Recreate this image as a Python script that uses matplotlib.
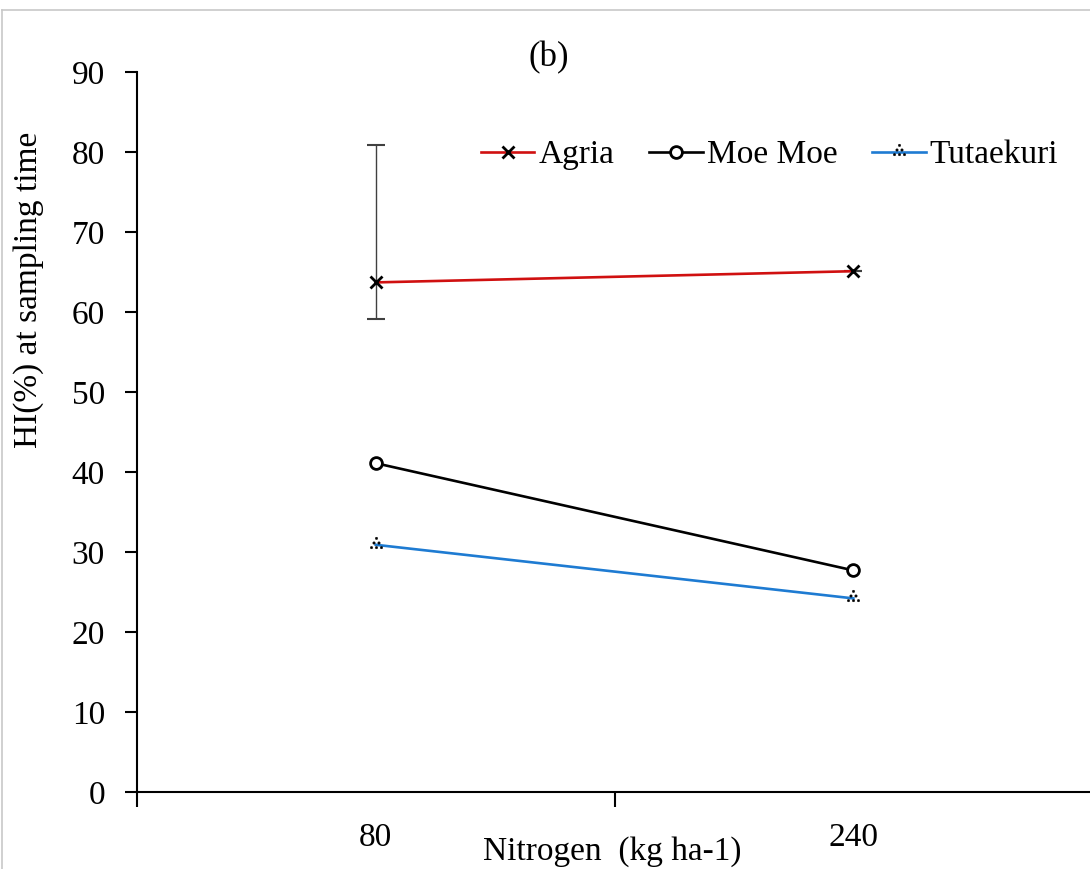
import matplotlib
matplotlib.use("Agg")
import matplotlib.pyplot as plt
from matplotlib.path import Path
from matplotlib.lines import Line2D
import numpy as np

plt.rcParams['font.family'] = ['Liberation Serif', 'DejaVu Serif']

categories = ["80", "240"]
series_names = ["Agria", "Moe Moe", "Tutaekuri"]
agria = [63.7, 65.1]
moe_moe = [41.1, 27.7]
tutaekuri = [30.9, 24.2]
agria_err_low = [4.6, 0.0]
agria_err_high = [17.2, 0.0]
y_ticks = [0, 10, 20, 30, 40, 50, 60, 70, 80, 90]

# dotted triangle marker (Excel-like)
dots = [(0, 1.0), (-0.35, 0.35), (0.35, 0.35), (-0.7, -0.3), (0.0, -0.3), (0.7, -0.3)]
tri_path = Path.make_compound_path(*[Path.circle(center=d, radius=0.17) for d in dots])

W, H = 1090, 869
fig = plt.figure(figsize=(W / 100, H / 100), dpi=100)
ax = fig.add_axes([137 / W, 1 - 792 / H, 1 - 137 / W + 0.002, (792 - 72) / H])

x = np.arange(len(categories))
ax.errorbar(x, agria, yerr=[agria_err_low, agria_err_high], fmt='none',
            ecolor='#404040', elinewidth=1.0, capsize=6.5, capthick=1.5, zorder=2)
l1, = ax.plot(x, agria, color='#D01010', lw=1.9, marker='x', markersize=8,
              markeredgecolor='black', markeredgewidth=2.0, label=series_names[0], zorder=3)
l2, = ax.plot(x, moe_moe, color='black', lw=1.9, marker='o', markersize=8.5,
              markerfacecolor='white', markeredgecolor='black', markeredgewidth=2.0,
              label=series_names[1], zorder=3)
l3, = ax.plot(x, tutaekuri, color='#1E7BD2', lw=1.9, marker=tri_path, markersize=12,
              markerfacecolor='black', markeredgecolor='black', markeredgewidth=0.3,
              label=series_names[2], zorder=3)

ax.set_xlim(-0.5, 1.5)
ax.set_ylim(0, 90)
ax.set_yticks(y_ticks)
ax.set_yticklabels([str(v) for v in y_ticks], fontsize=24)
ax.tick_params(axis='y', direction='out', length=9, width=1.5, pad=14, colors='black')

ax.set_xticks([-0.5, 0.5, 1.5])
ax.set_xticklabels(['', '', ''])
ax.set_xticks(x, minor=True)
ax.set_xticklabels(categories, minor=True, fontsize=24)
ax.tick_params(axis='x', which='major', direction='out', length=11, width=1.5)
ax.tick_params(axis='x', which='minor', length=0, pad=22)

for s in ['top', 'right']:
    ax.spines[s].set_visible(False)
for s in ['left', 'bottom']:
    ax.spines[s].set_linewidth(1.5)
    ax.spines[s].set_color('black')

fig.text(549 / W, 1 - 58 / H, "(b)", fontsize=25, ha='center', va='center')
fig.text(612 / W, 1 - 852 / H, "Nitrogen  (kg ha-1)", fontsize=24, ha='center', va='center')
fig.text(29 / W, 1 - 290 / H, "HI(%) at sampling time", fontsize=24, ha='center', va='center',
         rotation=90)

fig.legend(handles=[l1, l2, l3], loc='center left', bbox_to_anchor=(481 / W, 1 - 155 / H),
           ncol=3, frameon=False, fontsize=24, handlelength=1.6, handletextpad=0.12,
           columnspacing=1.05, borderpad=0, borderaxespad=0)

# light gray outer border
fig.add_artist(Line2D([1.5 / W, 1.5 / W], [0, 1 - 10 / H], transform=fig.transFigure,
                      color='#C8C8C8', lw=1.2))
fig.add_artist(Line2D([1.5 / W, 1], [1 - 10 / H, 1 - 10 / H], transform=fig.transFigure,
                      color='#C8C8C8', lw=1.2))

fig.savefig("out.png", dpi=100, facecolor='white')
